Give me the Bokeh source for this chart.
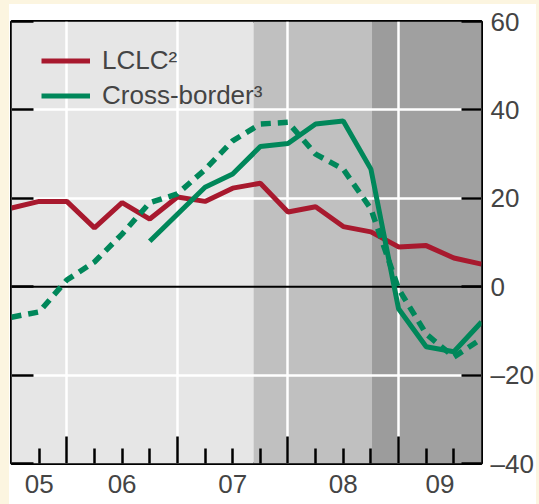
import numpy as np
from bokeh.plotting import figure
from bokeh.layouts import row, column
from bokeh.models import (LinearAxis, FixedTicker, Span, Legend, LegendItem,
                          Range1d, Grid, Div)
from bokeh.embed import file_html
from bokeh.resources import INLINE

# ---- data -------------------------------------------------------------
quarters = [2005.5, 2005.75, 2006.0, 2006.25, 2006.5, 2006.75, 2007.0, 2007.25,
            2007.5, 2007.75, 2008.0, 2008.25, 2008.5, 2008.75, 2009.0, 2009.25,
            2009.5, 2009.75]
lclc = [17.8, 19.3, 19.3, 13.3, 19.0, 15.3, 20.3, 19.3, 22.3, 23.4, 16.9, 18.1,
        13.6, 12.4, 9.0, 9.3, 6.5, 5.1]
cross_border = [np.nan, np.nan, np.nan, np.nan, np.nan, 10.3, 16.4, 22.5, 25.5,
                31.7, 32.4, 36.8, 37.5, 26.6, -5.0, -13.6, -14.7, -8.0]
cross_border_dashed = [-6.9, -5.7, 1.5, 5.6, 11.9, 19.0, 21.0, 26.5, 33.0, 36.8,
                       37.2, 30.0, 26.6, 17.6, -0.5, -10.7, -15.9, -11.8]

shade_left = [2005.5, 2007.69, 2008.76, 2009.0]
shade_right = [2007.69, 2008.76, 2009.0, 2009.75]
shade_colors = ["#e6e6e6", "#c0c0c0", "#9c9c9c", "#a0a0a0"]

year_ticks = [2006, 2007, 2008, 2009]
quarter_ticks = [2005.75, 2006.25, 2006.5, 2006.75, 2007.25, 2007.5, 2007.75,
                 2008.25, 2008.5, 2008.75, 2009.25, 2009.5]
year_label_pos = [2005.75, 2006.5, 2007.5, 2008.5, 2009.375]
year_labels = ["05", "06", "07", "08", "09"]

y_ticks = [-40, -20, 0, 20, 40, 60]
y_labels = ["\u201340", "\u201320", "0", "20", "40", "60"]
y_white_grid = [-20, 20, 40]

x_min, x_max = 2005.5, 2009.75
y_min, y_max = -40, 60

RED = "#a8192e"
GREEN = "#00875a"
BEIGE = "#fcf5e0"
FONT = "Liberation Sans"

# ---- figure -----------------------------------------------------------
p = figure(width=527, height=500, x_range=Range1d(x_min, x_max),
           y_range=Range1d(y_min, y_max), x_axis_type=None, y_axis_type=None,
           output_backend="svg", toolbar_location=None,
           min_border_left=2, min_border_right=53, min_border_top=17,
           min_border_bottom=41, background_fill_color="#e6e6e6",
           border_fill_color="white", outline_line_color="black",
           outline_line_width=3, margin=0)

# shading
p.quad(left=shade_left, right=shade_right, bottom=y_min, top=y_max,
       fill_color=shade_colors, line_color=None, level="image")

# grids
p.add_layout(Grid(dimension=0, ticker=FixedTicker(ticks=year_ticks),
                  grid_line_color="white", grid_line_width=2.5))
p.add_layout(Grid(dimension=1, ticker=FixedTicker(ticks=y_white_grid),
                  grid_line_color="white", grid_line_width=2.5))
p.add_layout(Span(location=0, dimension="width", line_color="black",
                  line_width=2, level="underlay"))

# lines
r_red = p.line(quarters, lclc, line_color=RED, line_width=5)
r_dash = p.line(quarters, cross_border_dashed, line_color=GREEN, line_width=5.5,
                line_dash="10 7")
r_green = p.line(quarters, cross_border, line_color=GREEN, line_width=5)

# axes
left_ax = LinearAxis(ticker=FixedTicker(ticks=y_ticks), major_tick_in=22,
                     major_tick_out=0, minor_tick_in=0, minor_tick_out=0,
                     major_label_overrides={t: "" for t in y_ticks},
                     major_label_text_font_size="1px", major_label_standoff=0,
                     axis_line_color=None, major_tick_line_width=2.5)
p.add_layout(left_ax, "left")

right_ax = LinearAxis(ticker=FixedTicker(ticks=y_ticks), major_tick_in=20,
                      major_tick_out=0, minor_tick_in=0, minor_tick_out=0,
                      major_label_overrides={t: l for t, l in zip(y_ticks, y_labels)},
                      major_label_text_font_size="26px",
                      major_label_text_font=FONT, major_label_standoff=9,
                      axis_line_color=None, major_tick_line_width=2.5)
p.add_layout(right_ax, "right")

tick_ax = LinearAxis(ticker=FixedTicker(ticks=year_ticks, minor_ticks=quarter_ticks),
                     major_tick_in=27, major_tick_out=0, minor_tick_in=15,
                     minor_tick_out=0,
                     major_label_overrides={t: "" for t in year_ticks},
                     major_label_text_font_size="1px",
                     major_label_standoff=0, axis_line_color=None,
                     major_tick_line_width=2.5, minor_tick_line_width=2.5)
p.add_layout(tick_ax, "below")

label_ax = LinearAxis(ticker=FixedTicker(ticks=year_label_pos), major_tick_in=0,
                      major_tick_out=0, minor_tick_in=0, minor_tick_out=0,
                      major_label_overrides={t: l for t, l in zip(year_label_pos, year_labels)},
                      major_label_text_font_size="26px",
                      major_label_text_font=FONT, major_label_standoff=11,
                      axis_line_color=None)
p.add_layout(label_ax, "below")

legend = Legend(items=[LegendItem(label="LCLC\u00b2", renderers=[r_red]),
                       LegendItem(label="Cross-border\u00b3", renderers=[r_green])],
                location=(30, 350), border_line_color=None,
                background_fill_alpha=0, label_text_font_size="26px",
                label_text_font=FONT, glyph_width=49, glyph_height=35,
                label_height=35, label_standoff=12, padding=0, margin=0,
                spacing=0)
p.add_layout(legend)

left_strip = Div(width=9, height=504, margin=0,
                 styles={"background-color": BEIGE})
top_strip = Div(width=527, height=4, margin=0,
                styles={"background-color": BEIGE})
right_strip = Div(width=3, height=504, margin=0,
                  styles={"background-color": BEIGE})
layout = row(left_strip, column(top_strip, p, spacing=0, margin=0),
             right_strip, spacing=0, margin=0)

open("out.html", "w").write(file_html(layout, INLINE))
